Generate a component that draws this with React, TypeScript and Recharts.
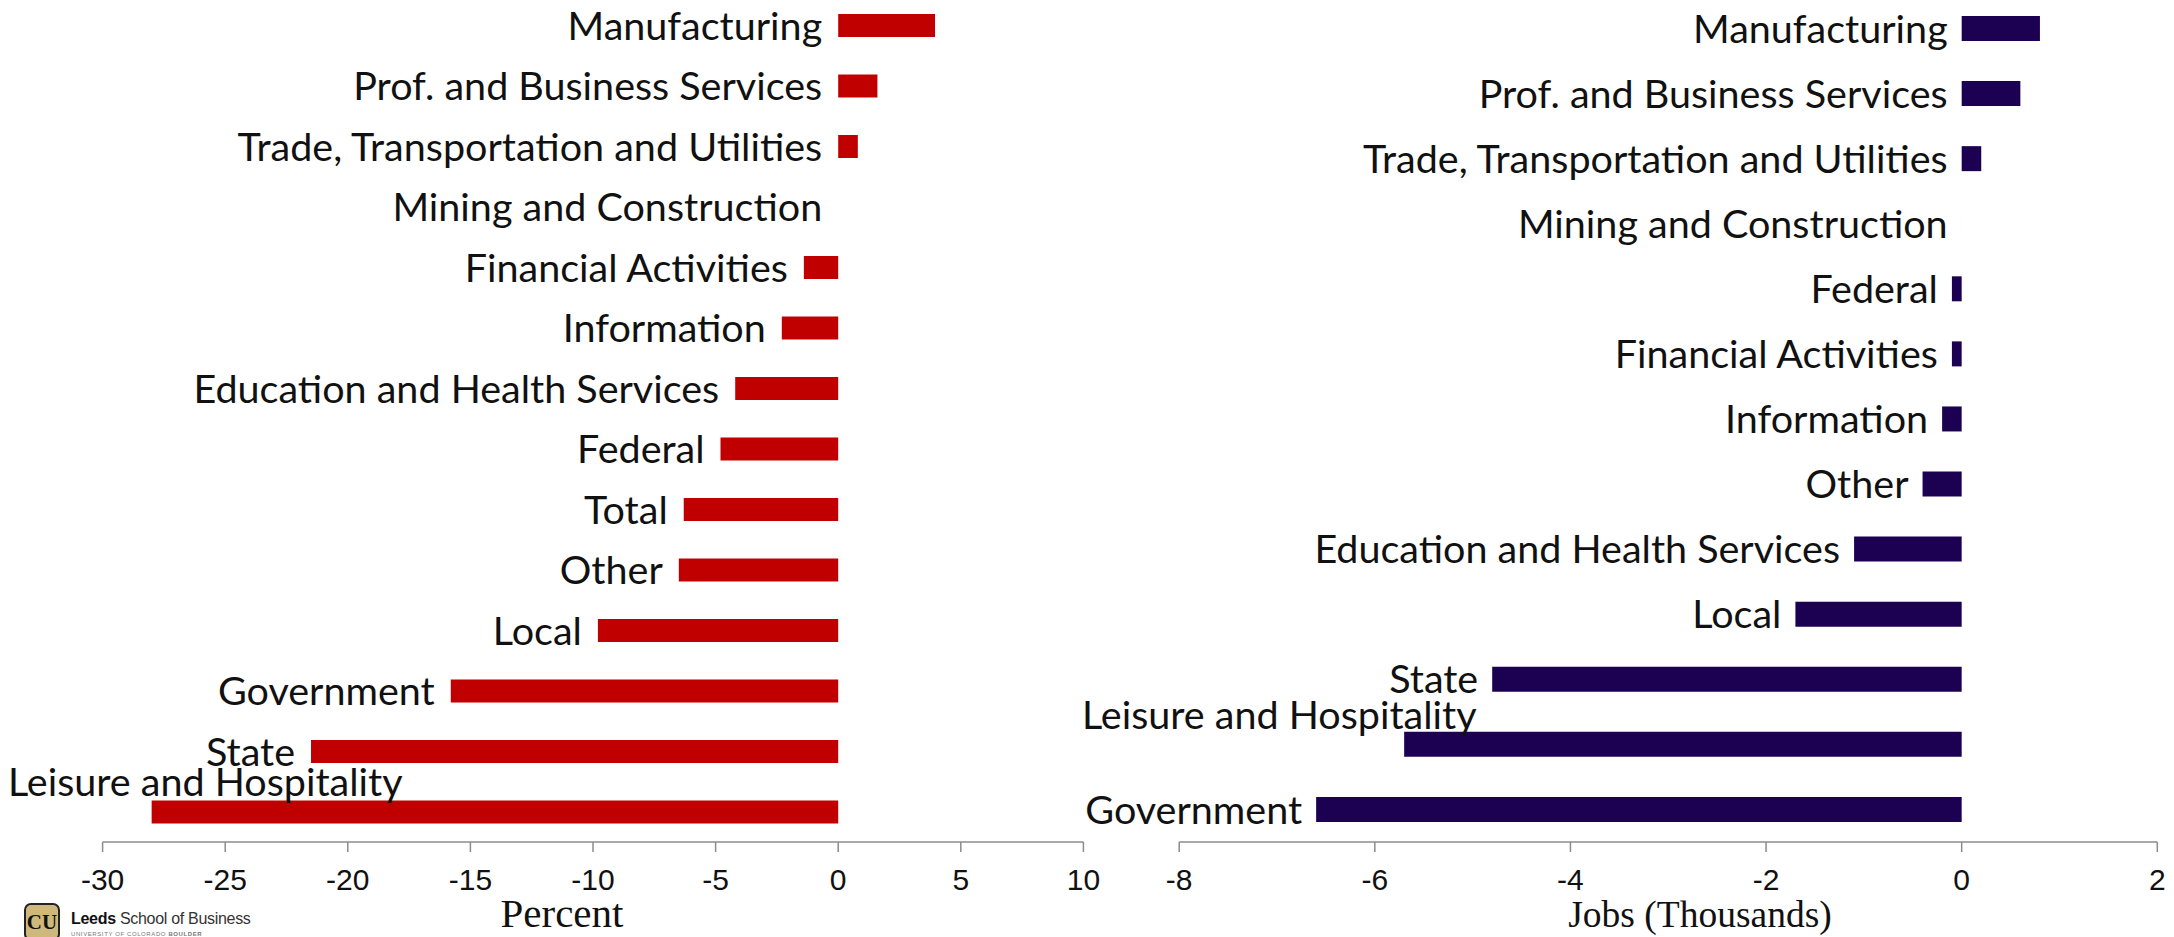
import { BarChart, Bar, XAxis, YAxis, LabelList } from "recharts";

// Percent change by industry (left panel)
const pctCategories = [
  "Manufacturing",
  "Prof. and Business Services",
  "Trade, Transportation and Utilities",
  "Mining and Construction",
  "Financial Activities",
  "Information",
  "Education and Health Services",
  "Federal",
  "Total",
  "Other",
  "Local",
  "Government",
  "State",
  "Leisure and Hospitality",
];
const pctValues = [3.95, 1.6, 0.8, 0, -1.4, -2.3, -4.2, -4.8, -6.3, -6.5, -9.8, -15.8, -21.5, -28.0];
const pctTicks = [-30, -25, -20, -15, -10, -5, 0, 5, 10];

// Jobs change in thousands (right panel)
const jobCategories = [
  "Manufacturing",
  "Prof. and Business Services",
  "Trade, Transportation and Utilities",
  "Mining and Construction",
  "Federal",
  "Financial Activities",
  "Information",
  "Other",
  "Education and Health Services",
  "Local",
  "State",
  "Leisure and Hospitality",
  "Government",
];
const jobValues = [0.8, 0.6, 0.2, 0, -0.1, -0.1, -0.2, -0.4, -1.1, -1.7, -4.8, -5.7, -6.6];
const jobTicks = [-8, -6, -4, -2, 0, 2];

const LABEL_FONT = "Lato";
const LABEL_SIZE = 39.5;
const AXIS_GREY = "#8c8c8c";

let ctx: CanvasRenderingContext2D | null = null;
function textWidth(s: string) {
  if (!ctx) {
    ctx = document.createElement("canvas").getContext("2d");
  }
  if (!ctx) return s.length * LABEL_SIZE * 0.48;
  ctx.font = `${LABEL_SIZE}px ${LABEL_FONT}`;
  return ctx.measureText(s).width;
}

// data label sitting just left of where the bar starts; pushed up and
// to the left edge when it would run off the panel (as in the original)
function barLabel(minX: number, gap: number) {
  return (props: any) => {
    const vb = props.viewBox ?? props;
    const { x, y, width, height } = vb;
    const text = String(props.value);
    const start = Math.min(x, x + width);
    let tx = start - gap;
    let ty = y + height / 2;
    let anchor: "end" | "start" = "end";
    if (tx - textWidth(text) < minX) {
      tx = minX;
      ty -= 30;
      anchor = "start";
    }
    return (
      <text
        x={tx}
        y={ty}
        dy="0.36em"
        textAnchor={anchor}
        fontFamily={LABEL_FONT}
        fontSize={LABEL_SIZE}
        fill="#111"
      >
        {text}
      </text>
    );
  };
}

function axisTitle(text: string, cx: number, size: number) {
  return (props: any) => {
    const vb = props.viewBox;
    return (
      <text
        x={cx}
        y={vb.y + vb.height}
        textAnchor="middle"
        fontFamily="Liberation Serif, serif"
        fontSize={size}
        fill="#111"
      >
        {text}
      </text>
    );
  };
}

const tickStyle = { fontFamily: "Liberation Sans, Arial", fontSize: 30, fill: "#111" };

function Panel({
  categories,
  values,
  ticks,
  domain,
  color,
  left,
  width,
  margin,
  barSize,
  title,
  titleX,
  titleSize,
  minLabelX,
  gap,
}: any) {
  const data = categories.map((name: string, i: number) => ({ name, value: values[i] }));
  return (
    <div style={{ position: "absolute", left, top: -10 }}>
      <BarChart width={width} height={947} data={data} layout="vertical" margin={margin} barCategoryGap={0}>
        <XAxis
          type="number"
          domain={domain}
          ticks={ticks}
          interval={0}
          allowDataOverflow
          height={85}
          tickSize={10}
          tickMargin={17}
          axisLine={{ stroke: AXIS_GREY, strokeWidth: 1.5 }}
          tickLine={{ stroke: AXIS_GREY, strokeWidth: 1.5 }}
          tick={tickStyle}
          label={axisTitle(title, titleX, titleSize)}
        />
        <YAxis type="category" dataKey="name" hide width={0} />
        <Bar dataKey="value" fill={color} barSize={barSize} minPointSize={0.01} isAnimationActive={false}>
          <LabelList dataKey="name" content={barLabel(minLabelX, gap)} />
        </Bar>
      </BarChart>
    </div>
  );
}

function Logo() {
  return (
    <div style={{ position: "absolute", left: 24, top: 903, display: "flex", alignItems: "flex-start" }}>
      <div
        style={{
          width: 36,
          height: 38,
          background: "#cfb87c",
          border: "2px solid #222",
          borderRadius: 7,
          boxSizing: "border-box",
          fontFamily: "Liberation Serif, serif",
          fontWeight: 700,
          fontSize: 21,
          lineHeight: "34px",
          textAlign: "center",
          color: "#111",
        }}
      >
        CU
      </div>
      <div style={{ marginLeft: 11, marginTop: 7, fontFamily: "Liberation Sans, Arial" }}>
        <div style={{ fontSize: 16, color: "#333", letterSpacing: -0.3 }}>
          <b style={{ color: "#111" }}>Leeds</b> School of Business
        </div>
        <div style={{ fontSize: 6, color: "#777", marginTop: 3, letterSpacing: 0.6 }}>
          UNIVERSITY OF COLORADO <b>BOULDER</b>
        </div>
      </div>
    </div>
  );
}

export default function App() {
  return (
    <div style={{ position: "absolute", left: 0, top: 0, width: 2174, height: 937, overflow: "hidden", background: "#fff" }}>
      <Panel
        categories={pctCategories}
        values={pctValues}
        ticks={pctTicks}
        domain={[-30, 10]}
        color="#c00000"
        left={0}
        width={1120}
        margin={{ top: 5, right: 36.6, bottom: 10, left: 102.6 }}
        barSize={23}
        title="Percent"
        titleX={562}
        titleSize={41}
        minLabelX={8}
        gap={16}
      />
      <Panel
        categories={jobCategories}
        values={jobValues}
        ticks={jobTicks}
        domain={[-8, 2]}
        color="#1c0052"
        left={1080}
        width={1094}
        margin={{ top: 6, right: 16.7, bottom: 10, left: 99.2 }}
        barSize={25}
        title="Jobs (Thousands)"
        titleX={1700 - 1080}
        titleSize={37.5}
        minLabelX={2}
        gap={14}
      />
      <Logo />
    </div>
  );
}
